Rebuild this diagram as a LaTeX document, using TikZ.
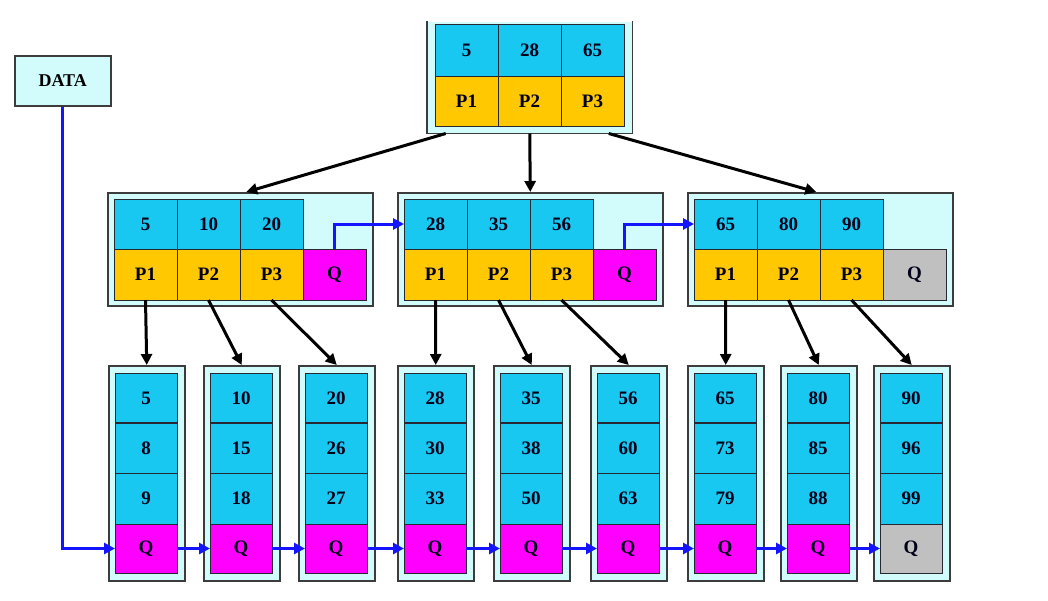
\documentclass[tikz,border=0pt]{standalone}
\usepackage{fontspec}
\setmainfont{Liberation Serif}
\usetikzlibrary{arrows.meta,calc}
\definecolor{keyblue}{RGB}{25,200,240}
\definecolor{ptrorange}{RGB}{255,200,0}
\definecolor{qmag}{RGB}{255,0,255}
\definecolor{qgray}{RGB}{192,192,192}
\definecolor{boxfill}{RGB}{210,252,252}
\definecolor{boxedge}{RGB}{60,60,60}
\definecolor{celledge}{RGB}{40,40,50}
\definecolor{linkblue}{RGB}{20,20,255}
\begin{document}
\begin{tikzpicture}[x=1pt,y=-1pt,
  box/.style={draw=boxedge, line width=1.5pt, fill=boxfill, inner sep=0pt, anchor=north west},
  cell/.style={draw=celledge, line width=1pt, inner sep=0pt, outer sep=0pt, anchor=north west,
    font=\fontsize{19}{21}\selectfont\bfseries, text=black!90!blue},
  kc/.style={cell, fill=keyblue, minimum width=63pt, minimum height=50pt},
  pc/.style={cell, fill=ptrorange, minimum width=63pt, minimum height=51pt},
  lc/.style={cell, fill=keyblue, minimum width=62pt, minimum height=50pt},
  ptr/.style={line width=3pt, -{Triangle[length=11pt,width=11pt]}},
  link/.style={draw=linkblue, line width=3pt, -{Triangle[length=11pt,width=11pt]}}]
\useasboundingbox (0,0) rectangle (1048,600);
\fill[white] (0,0) rectangle (1048,600);

% DATA
\node[box, draw=boxedge, minimum width=96pt, minimum height=50pt,
  font=\fontsize{18}{20}\selectfont\bfseries] (data) at (14,55) {DATA};

% root (top edge cut off)
\node[box, draw=none, minimum width=204pt, minimum height=111pt] (root) at (427,21) {};
\draw[boxedge, line width=1.5pt] (root.north west) -- (root.south west) -- (root.south east) -- (root.north east);
\node[kc, minimum height=52pt] (rk1) at (435,24) {5};
\node[kc, minimum height=52pt] (rk2) at (498,24) {28};
\node[kc, minimum height=52pt] (rk3) at (561,24) {65};
\node[pc, minimum height=50pt] (rp1) at (435,76) {P1};
\node[pc, minimum height=50pt] (rp2) at (498,76) {P2};
\node[pc, minimum height=50pt] (rp3) at (561,76) {P3};

% middle nodes
\foreach \i/\ox/\a/\b/\c/\q in {1/107/5/10/20/qmag, 2/397/28/35/56/qmag, 3/687/65/80/90/qgray} {
  \node[box, minimum width=265pt, minimum height=113pt] (m\i) at (\ox,192) {};
  \node[kc] (m\i k1) at (\ox+7,199) {\a};
  \node[kc] (m\i k2) at (\ox+70,199) {\b};
  \node[kc] (m\i k3) at (\ox+133,199) {\c};
  \node[pc] (m\i p1) at (\ox+7,249) {P1};
  \node[pc] (m\i p2) at (\ox+70,249) {P2};
  \node[pc] (m\i p3) at (\ox+133,249) {P3};
  \node[cell, fill=\q, minimum width=63pt, minimum height=51pt] (m\i q) at (\ox+196,249) {Q};
}

% leaves
\foreach \j/\lx/\a/\b/\c/\q in {1/108/5/8/9/qmag, 2/203/10/15/18/qmag, 3/298/20/26/27/qmag,
  4/397/28/30/33/qmag, 5/493/35/38/50/qmag, 6/590/56/60/63/qmag,
  7/687/65/73/79/qmag, 8/780/80/85/88/qmag, 9/873/90/96/99/qgray} {
  \node[box, minimum width=76pt, minimum height=215pt] (l\j) at (\lx,365) {};
  \node[lc] (l\j a) at (\lx+7,373) {\a};
  \node[lc] (l\j b) at (\lx+7,423) {\b};
  \node[lc, minimum height=51pt] (l\j c) at (\lx+7,473) {\c};
  \node[cell, fill=\q, minimum width=62pt, minimum height=49pt] (l\j q) at (\lx+7,524) {Q};
  \draw[line width=2pt, celledge] (l\j a.south west) -- (l\j a.south east);
}

% root to middle
\coordinate (ra1) at ($(root.south)+(-84,0)$);
\coordinate (ra3) at ($(root.south)+(79,0)$);
\draw[ptr] (ra1) -- ($(m1.north)+(6,0)$);
\draw[ptr] (root.south) -- (m2.north);
\draw[ptr] (ra3) -- ($(m3.north)+(-4,0)$);

% middle to leaves
\draw[ptr] (m1p1.south) -- (l1.north);
\draw[ptr] (m1p2.south) -- (l2.north);
\draw[ptr] (m1p3.south) -- (l3.north);
\draw[ptr] (m2p1.south) -- (l4.north);
\draw[ptr] (m2p2.south) -- (l5.north);
\draw[ptr] (m2p3.south) -- (l6.north);
\draw[ptr] (m3p1.south) -- (l7.north);
\draw[ptr] (m3p2.south) -- (l8.north);
\draw[ptr] (m3p3.south) -- (l9.north);

% middle Q links
\draw[link] (m1q.north) |- (m2k1.west);
\draw[link] (m2q.north) |- (m3k1.west);

% leaf chain
\draw[link] (data.south) |- (l1q.west);
\foreach \s/\t in {1/2,2/3,3/4,4/5,5/6,6/7,7/8,8/9} {
  \draw[link] (l\s q.east) -- (l\t q.west);
}
\end{tikzpicture}
\end{document}
